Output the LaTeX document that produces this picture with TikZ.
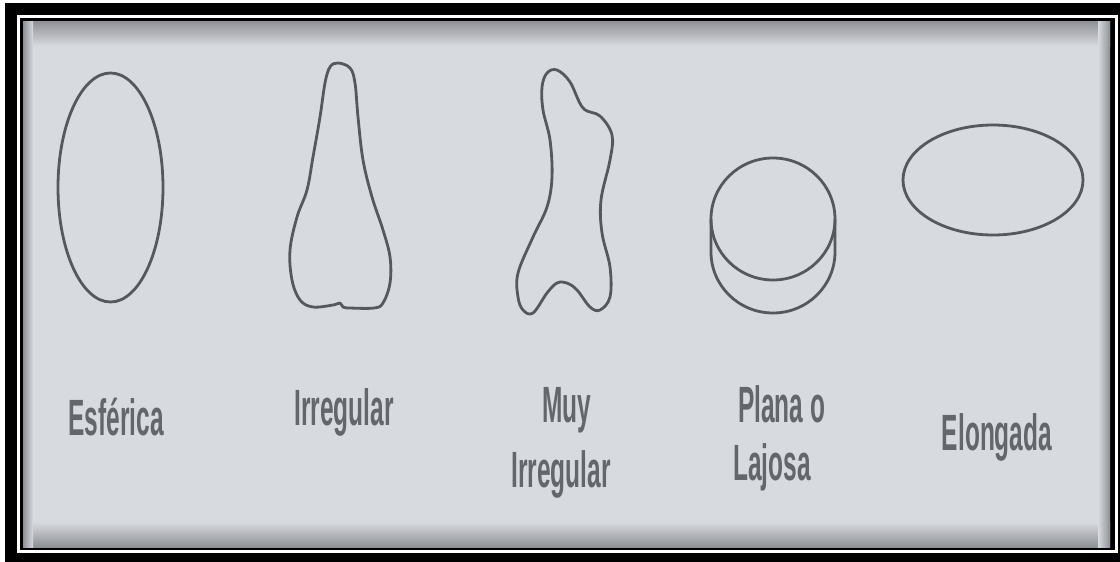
\documentclass[tikz,border=0pt]{standalone}
\usepackage{fontspec}
\newfontfamily\labelfont[FakeStretch=0.48]{Liberation Sans}
\definecolor{paper}{HTML}{D7DADF}
\definecolor{paperedge}{HTML}{8E9094}
\definecolor{ink}{HTML}{55585C}
\definecolor{labelink}{HTML}{63666B}
\tikzset{
  outline/.style={draw=ink, line width=2.8pt, line join=round},
  caption/.style={inner sep=0pt, anchor=base, text=labelink,
    font=\labelfont\bfseries\fontsize{51}{60}\selectfont},
}
\begin{document}
\begin{tikzpicture}[x=1pt, y=-1pt]
\useasboundingbox (0,0) rectangle (1120,562);
% frame: white margin, heavy black border, thin white and black rules
\fill[white] (0,0) rectangle (1120,562);
\fill[black] (5,3) rectangle (1120,562);
\fill[white] (17,15) rectangle (1118,553);
\fill[black] (20,18) rectangle (1115,550);
% the paper, darker toward its edges
\fill[paper] (23,21) rectangle (1110,547);
\shade[top color=paperedge, bottom color=paper] (23,21) rectangle (1110,46);
\shade[top color=paper, bottom color=paperedge] (23,522) rectangle (1110,547);
\shade[left color=paperedge, right color=paper] (23,21) rectangle (33,547);
\shade[left color=paper, right color=paperedge] (1098,21) rectangle (1110,547);

% Esferica
\draw[outline] (110.5,187.5) ellipse[x radius=52.5, y radius=114.5];
% Irregular
\draw[outline] plot[smooth cycle, tension=0.6] coordinates {
  (338,63) (350,68) (355,83) (358,117) (363,160) (372,197) (383,230)
  (390,257) (390,283) (383,303) (374,308) (350,308) (343,307) (340,303)
  (333,305) (313,307) (300,300) (292,280) (290,250) (297,217) (307,190)
  (313,157) (320,117) (325,83) (330,67)};
% Muy irregular
\draw[outline] plot[smooth cycle, tension=0.6] coordinates {
  (557,70) (570,82) (583,108) (600,116) (612,135) (610,160) (601,200)
  (602,233) (610,267) (610,297) (600,310) (590,307) (577,290) (567,283)
  (557,283) (547,293) (533,313) (523,310) (518,297) (518,273) (533,237)
  (547,207) (552,177) (550,140) (543,110) (542,87) (547,73)};
% Plana o lajosa: two stacked discs
\draw[outline] (773,219) ellipse[x radius=62, y radius=61];
\draw[outline] (711,219) -- (711,252)
  arc[start angle=180, end angle=0, x radius=62, y radius=61] -- (835,219);
% Elongada
\draw[outline] (993,180) ellipse[x radius=90, y radius=55];

% labels
\node[caption] (esf) at (116,435) {Esférica};
\node[caption] (irr) at (344,425) {Irregular};
\node[caption] (muy1) at (567,422) {Muy};
\node[caption] (muy2) at (561,487) {Irregular};
\node[caption, anchor=base west] (pla1) at (738,422) {Plana o};
\node[caption, anchor=base west] (pla2) at (733,480) {Lajosa};
\node[caption] (elo) at (997,450) {Elongada};
\end{tikzpicture}
\end{document}
